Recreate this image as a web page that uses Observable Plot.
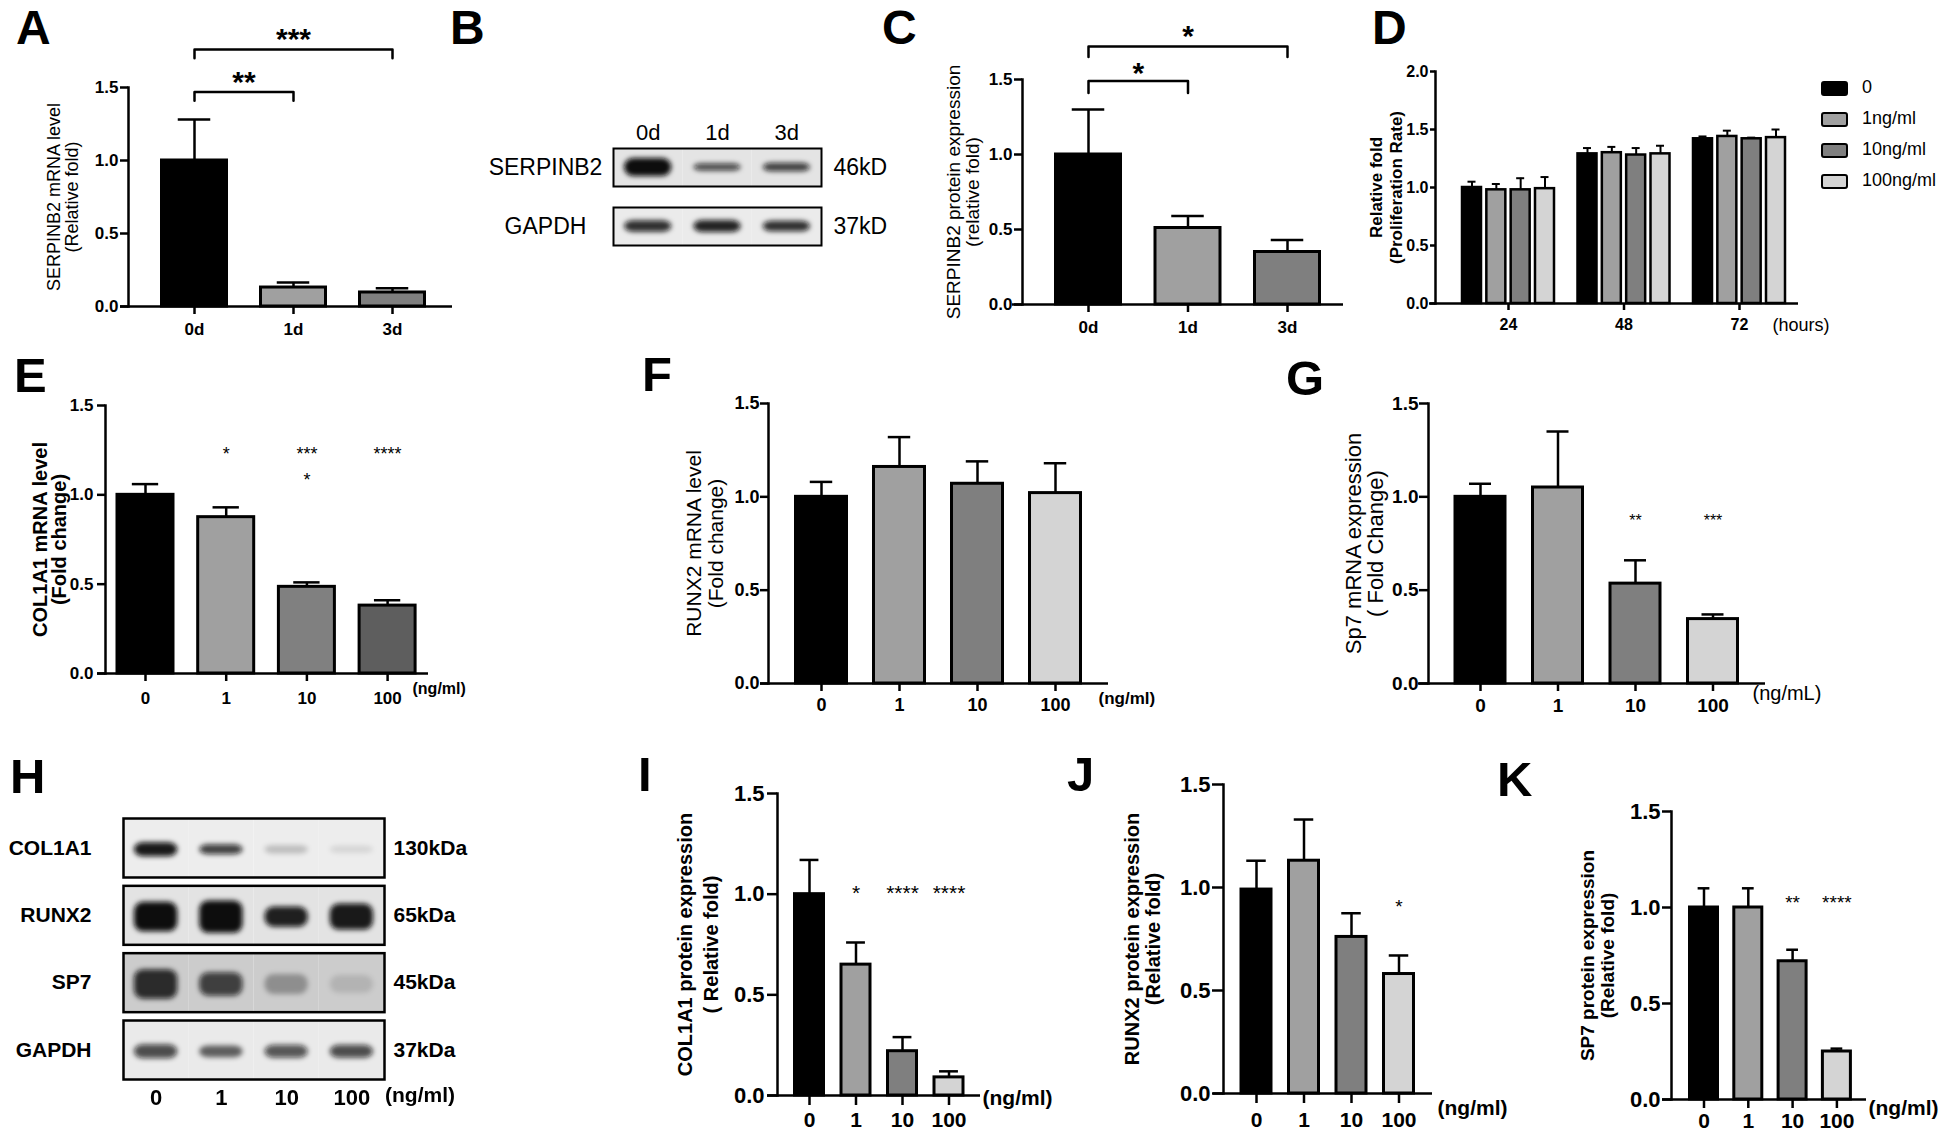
<!DOCTYPE html>
<html><head><meta charset="utf-8">
<script src="https://cdn.jsdelivr.net/npm/d3@7"></script>
<script src="https://cdn.jsdelivr.net/npm/@observablehq/plot@0.6"></script>
<style>
html,body{margin:0;padding:0;background:#fff;}
#root{position:relative;width:1956px;height:1135px;overflow:hidden;font-family:"Liberation Sans",Arial,sans-serif;color:#000;}
#root svg{position:absolute;left:0;top:0;max-width:none !important;overflow:visible;background:transparent !important;}
.lbl{position:absolute;font-weight:bold;}
.txt{position:absolute;white-space:nowrap;}
.sw{position:absolute;box-sizing:border-box;border:2.5px solid #000;border-radius:3px;width:27px;height:15px;}
</style></head><body><div id="root"></div>
<script>
// ---------------- DATA ----------------
const timeCats = ["0d", "1d", "3d"];
const serpinMrna = [1.00, 0.13, 0.096];
const serpinMrnaSD = [0.28, 0.035, 0.029];
const serpinProt = [1.00, 0.51, 0.35];
const serpinProtSD = [0.30, 0.08, 0.08];

const hours = ["24", "48", "72"];
const doseSeries = ["0", "1ng/ml", "10ng/ml", "100ng/ml"];
const prolif = [[1.00, 0.98, 0.98, 0.99], [1.29, 1.30, 1.28, 1.29], [1.42, 1.44, 1.42, 1.43]];
const prolifSD = [[0.05, 0.05, 0.10, 0.10], [0.05, 0.05, 0.06, 0.07], [0.02, 0.05, 0.01, 0.07]];

const doses = ["0", "1", "10", "100"];
const col1a1Mrna = [1.00, 0.875, 0.485, 0.38];
const col1a1MrnaSD = [0.06, 0.055, 0.025, 0.03];
const runx2Mrna = [1.00, 1.16, 1.07, 1.02];
const runx2MrnaSD = [0.08, 0.16, 0.12, 0.16];
const sp7Mrna = [1.00, 1.05, 0.535, 0.345];
const sp7MrnaSD = [0.07, 0.30, 0.125, 0.025];
const col1a1Prot = [1.00, 0.65, 0.22, 0.09];
const col1a1ProtSD = [0.17, 0.11, 0.07, 0.03];
const runx2Prot = [0.99, 1.13, 0.76, 0.58];
const runx2ProtSD = [0.14, 0.20, 0.115, 0.09];
const sp7Prot = [1.00, 1.00, 0.72, 0.25];
const sp7ProtSD = [0.10, 0.10, 0.06, 0.015];

// western blots: band intensity (0-1) and band thickness (fraction of strip)
const blotBLanes = ["0d", "1d", "3d"];
const blotBRows = ["SERPINB2", "GAPDH"];
const blotBSizes = ["46kD", "37kD"];
const blotBIntensity = [[1.0, 0.72, 0.78], [0.85, 0.9, 0.85]];
const blotBThick = [[0.47, 0.2, 0.23], [0.3, 0.32, 0.28]];
const blotHLanes = ["0", "1", "10", "100"];
const blotHRows = ["COL1A1", "RUNX2", "SP7", "GAPDH"];
const blotHSizes = ["130kDa", "65kDa", "45kDa", "37kDa"];
const blotHIntensity = [[0.95, 0.78, 0.2, 0.1], [1.0, 1.0, 0.92, 0.95], [0.85, 0.75, 0.3, 0.12], [0.72, 0.6, 0.68, 0.72]];
const blotHThick = [[0.24, 0.17, 0.14, 0.12], [0.5, 0.55, 0.34, 0.44], [0.5, 0.4, 0.34, 0.3], [0.24, 0.2, 0.22, 0.22]];

// ---------------- STYLE ----------------
const FONT = '"Liberation Sans", Arial, Helvetica, sans-serif';
const W = 1956, H = 1135;
const GRAY3 = ["#000000", "#a0a0a0", "#7f7f7f"];
const GRAY4 = ["#000000", "#a0a0a0", "#7f7f7f", "#d4d4d4"];
const GRAY4E = ["#000000", "#a0a0a0", "#808080", "#5e5e5e"];
const root = document.getElementById("root");
const STYLE = `font-family: ${FONT}; color: black; background: transparent;`;

function barPanel(cfg) {
  const n = cfg.cats.length;
  const p = 1 - cfg.w / cfg.step;
  const a = cfg.c0 - cfg.step * (1 + p) / 2;
  const b = a + cfg.step * (n + p);
  const ymax = cfg.ymax ?? 1.5;
  const data = cfg.cats.map((c, i) => ({cat: c, v: cfg.values[i], top: cfg.values[i] + cfg.sd[i], color: cfg.colors[i]}));
  const capInset = cfg.w * (1 - cfg.capFrac) / 2;
  const marks = [
    Plot.ruleX(data, {x: "cat", y1: "v", y2: "top", stroke: "black", strokeWidth: 2.5}),
    Plot.tickY(data, {x: "cat", y: "top", insetLeft: capInset, insetRight: capInset, stroke: "black", strokeWidth: 2.5}),
    Plot.barY(data, {x: "cat", y: "v", fill: "color", stroke: "black", strokeWidth: 3}),
    Plot.ruleY([0], {insetLeft: -cfg.axisExt, stroke: "black", strokeWidth: 2.5}),
    Plot.frame({anchor: "left", stroke: "black", strokeWidth: 2.5}),
    Plot.axisY({ticks: d3.range(0, ymax + 0.01, 0.5), tickFormat: ".1f", tickSize: cfg.yTick, tickPadding: cfg.yPad,
      fontSize: cfg.yFont, fontWeight: "bold", strokeWidth: 2.5, label: null}),
    Plot.axisX({tickSize: cfg.xTick ?? 8, tickPadding: cfg.xPad, fontSize: cfg.xFont, fontWeight: "bold", strokeWidth: 2.5, label: null}),
    Plot.text([cfg.ylabel], {text: d => d, frameAnchor: "left", dx: cfg.labelX - cfg.x0, rotate: -90,
      fontSize: cfg.labelFont, fontWeight: cfg.labelWeight, lineHeight: cfg.labelLH, lineAnchor: "middle", textAnchor: "middle"})
  ];
  (cfg.brackets || []).forEach(br => {
    const pts = [{x: br.from, y: br.drop}, {x: br.from, y: br.y}, {x: br.to, y: br.y}, {x: br.to, y: br.drop}];
    marks.push(Plot.line(pts, {x: "x", y: "y", stroke: "black", strokeWidth: 2.5}));
    const di = cfg.cats.indexOf(br.to) - cfg.cats.indexOf(br.from);
    marks.push(Plot.text([br], {x: "from", y: "ty", text: "label", dx: di * cfg.step / 2, dy: 0.26 * cfg.starFont,
      fontSize: cfg.starFont, fontWeight: "bold"}));
  });
  if (cfg.ann) {
    marks.push(Plot.text(cfg.ann, {x: "cat", y: "y", text: "label", fontSize: cfg.annFont, fontWeight: "normal", dy: 0.26 * cfg.annFont}));
  }
  if (cfg.unit) {
    marks.push(Plot.text([cfg.unit], {text: d => d, frameAnchor: "bottom-right", textAnchor: "start", lineAnchor: "middle",
      dx: cfg.unitX - cfg.x1, dy: cfg.unitY - cfg.yZero, fontSize: cfg.unitFont, fontWeight: cfg.unitWeight}));
  }
  const svg = Plot.plot({
    width: W, height: H,
    marginLeft: cfg.x0, marginRight: W - cfg.x1, marginTop: cfg.yTop, marginBottom: H - cfg.yZero,
    style: STYLE,
    x: {type: "band", domain: cfg.cats, range: [a, b], padding: p, round: false},
    y: {domain: [0, ymax]},
    color: {type: "identity"},
    marks
  });
  root.appendChild(svg);
}

function prolifPanel() {
  const x0 = 1435, x1 = 1798, yTop = 71, yZero = 303;
  const gStep = 115.5, gW = 92, c0 = 1508;
  const p = 1 - gW / gStep, a = c0 - gStep * (1 + p) / 2, b = a + gStep * (hours.length + p);
  const sW = 19, sStep = (gW - sW) / 3, capW = 8;
  const marks = [];
  doseSeries.forEach((s, j) => {
    const data = hours.map((h, i) => ({h, v: prolif[i][j], top: prolif[i][j] + prolifSD[i][j]}));
    const off = j * sStep;
    marks.push(Plot.ruleX(data, {x: "h", y1: "v", y2: "top", dx: off + sW / 2 - gW / 2, stroke: "black", strokeWidth: 2}));
    marks.push(Plot.tickY(data, {x: "h", y: "top", insetLeft: off + (sW - capW) / 2, insetRight: gW - off - (sW + capW) / 2, stroke: "black", strokeWidth: 2}));
    marks.push(Plot.barY(data, {x: "h", y: "v", insetLeft: off, insetRight: gW - off - sW, fill: GRAY4[j], stroke: "black", strokeWidth: 2.5}));
  });
  marks.push(
    Plot.ruleY([0], {insetLeft: -6, stroke: "black", strokeWidth: 2.5}),
    Plot.frame({anchor: "left", stroke: "black", strokeWidth: 2.5}),
    Plot.axisY({ticks: [0, 0.5, 1, 1.5, 2], tickFormat: ".1f", tickSize: 5, tickPadding: 2, fontSize: 16, fontWeight: "bold", strokeWidth: 2.5, label: null}),
    Plot.axisX({tickSize: 7, tickPadding: 8, fontSize: 16, fontWeight: "bold", strokeWidth: 2.5, label: null}),
    Plot.text(["Relative fold\n(Proliferation Rate)"], {text: d => d, frameAnchor: "left", dx: 1385 - x0, rotate: -90,
      fontSize: 17, fontWeight: "bold", lineHeight: 1.18, lineAnchor: "middle", textAnchor: "middle"}),
    Plot.text(["(hours)"], {text: d => d, frameAnchor: "bottom-right", textAnchor: "start", lineAnchor: "middle",
      dx: 1772 - x1, dy: 325 - yZero, fontSize: 18})
  );
  const svg = Plot.plot({
    width: W, height: H,
    marginLeft: x0, marginRight: W - x1, marginTop: yTop, marginBottom: H - yZero,
    style: STYLE,
    x: {type: "band", domain: hours, range: [a, b], padding: p, round: false},
    y: {domain: [0, 2]},
    marks
  });
  root.appendChild(svg);
}

function blotPanel(cfg) {
  const bg = [], bands = [];
  cfg.rows.forEach((r, i) => cfg.lanes.forEach((l, j) => {
    bg.push({row: r, lane: l, color: cfg.bg[i]});
    const t = cfg.thick[i][j];
    bands.push({row: r, lane: l, y1: cfg.center - t / 2, y2: cfg.center + t / 2, op: cfg.intensity[i][j]});
  }));
  const svg = Plot.plot({
    width: W, height: H,
    marginLeft: cfg.left, marginRight: W - cfg.right, marginTop: cfg.top, marginBottom: H - cfg.bottom,
    style: STYLE,
    x: {type: "band", domain: cfg.lanes, padding: 0, round: false},
    y: {domain: [0, 1], axis: null},
    fy: {domain: cfg.rows, paddingInner: cfg.rowPad, paddingOuter: 0, round: false},
    color: {type: "identity"},
    marks: [
      Plot.barY(bg, {x: "lane", fy: "row", y1: 0, y2: 1, fill: "color"}),
      Plot.barY(bands, {x: "lane", fy: "row", y1: "y1", y2: "y2", fill: "#0a0a0a", fillOpacity: "op",
        insetLeft: cfg.bandInset, insetRight: cfg.bandInset, rx: 9, ariaDescription: "bands"}),
      Plot.frame({stroke: "black", strokeWidth: cfg.frameW}),
      Plot.axisFy({anchor: "left", tickSize: 0, tickPadding: cfg.rowLabelPad, textAnchor: cfg.rowAnchor,
        fontSize: cfg.rowFont, fontWeight: cfg.weight, label: null}),
      Plot.axisFy({anchor: "right", tickSize: 0, tickPadding: cfg.sizePad, tickFormat: d => cfg.sizes[cfg.rows.indexOf(d)],
        fontSize: cfg.rowFont, fontWeight: cfg.weight, label: null}),
      Plot.axisX({anchor: cfg.laneAnchor, tickSize: 0, tickPadding: cfg.lanePad, fontSize: cfg.laneFont, fontWeight: cfg.weight, label: null})
    ]
  });
  const ns = "http://www.w3.org/2000/svg";
  const defs = document.createElementNS(ns, "defs");
  const f = document.createElementNS(ns, "filter");
  f.setAttribute("id", cfg.id); f.setAttribute("x", "-20%"); f.setAttribute("y", "-30%");
  f.setAttribute("width", "140%"); f.setAttribute("height", "160%");
  const gb = document.createElementNS(ns, "feGaussianBlur");
  gb.setAttribute("stdDeviation", cfg.blur);
  f.appendChild(gb); defs.appendChild(f); svg.insertBefore(defs, svg.firstChild);
  svg.querySelectorAll('[aria-description="bands"]').forEach(el => el.setAttribute("filter", `url(#${cfg.id})`));
  root.appendChild(svg);
}

// ---------------- PANELS ----------------
barPanel({cats: timeCats, values: serpinMrna, sd: serpinMrnaSD, colors: GRAY3,
  x0: 128, x1: 452, yTop: 87, yZero: 306, c0: 194, step: 99, w: 65, capFrac: 0.5, axisExt: 8,
  yTick: 8, yPad: 2, yFont: 17, xPad: 8, xFont: 17,
  ylabel: "SERPINB2 mRNA level\n(Relative fold)", labelX: 62.5, labelFont: 18, labelWeight: "normal", labelLH: 1.02,
  starFont: 30,
  brackets: [{from: "0d", to: "1d", y: 1.47, drop: 1.41, label: "**", ty: 1.59},
             {from: "0d", to: "3d", y: 1.76, drop: 1.70, label: "***", ty: 1.88}]});

barPanel({cats: timeCats, values: serpinProt, sd: serpinProtSD, colors: GRAY3,
  x0: 1022, x1: 1343, yTop: 79, yZero: 304, c0: 1088, step: 99.5, w: 65, capFrac: 0.5, axisExt: 10,
  yTick: 8, yPad: 2, yFont: 17, xPad: 8, xFont: 17,
  ylabel: "SERPINB2 protein expression\n(relative fold)", labelX: 962.5, labelFont: 19, labelWeight: "normal", labelLH: 1.0,
  starFont: 30,
  brackets: [{from: "0d", to: "1d", y: 1.49, drop: 1.41, label: "*", ty: 1.59},
             {from: "0d", to: "3d", y: 1.72, drop: 1.65, label: "*", ty: 1.84}]});

prolifPanel();

barPanel({cats: doses, values: col1a1Mrna, sd: col1a1MrnaSD, colors: GRAY4E,
  x0: 105, x1: 428, yTop: 405, yZero: 673, c0: 145, step: 80.7, w: 56, capFrac: 0.47, axisExt: 8,
  yTick: 8, yPad: 4, yFont: 17, xPad: 10, xFont: 17,
  ylabel: "COL1A1 mRNA level\n(Fold change)", labelX: 50, labelFont: 20, labelWeight: "bold", labelLH: 0.93,
  ann: [{cat: "1", y: 1.255, label: "*"}, {cat: "10", y: 1.255, label: "***"}, {cat: "10", y: 1.108, label: "*"}, {cat: "100", y: 1.255, label: "****"}],
  annFont: 18, unit: "(ng/ml)", unitX: 412, unitY: 688, unitFont: 16, unitWeight: "bold"});

barPanel({cats: doses, values: runx2Mrna, sd: runx2MrnaSD, colors: GRAY4,
  x0: 768, x1: 1108, yTop: 403, yZero: 683, c0: 821, step: 78, w: 51, capFrac: 0.44, axisExt: 8,
  yTick: 8, yPad: 1, yFont: 18, xPad: 7, xFont: 18,
  ylabel: "RUNX2 mRNA level\n(Fold change)", labelX: 704, labelFont: 21, labelWeight: "normal", labelLH: 1.05,
  unit: "(ng/ml)", unitX: 1098, unitY: 698, unitFont: 17, unitWeight: "bold"});

barPanel({cats: doses, values: sp7Mrna, sd: sp7MrnaSD, colors: GRAY4,
  x0: 1428, x1: 1765, yTop: 403, yZero: 683, c0: 1480, step: 77.5, w: 50, capFrac: 0.44, axisExt: 10,
  yTick: 9, yPad: 1, yFont: 19, xPad: 7, xFont: 19,
  ylabel: "Sp7 mRNA expression\n( Fold Change)", labelX: 1364, labelFont: 22, labelWeight: "normal", labelLH: 1.0,
  ann: [{cat: "10", y: 0.895, label: "**"}, {cat: "100", y: 0.895, label: "***"}], annFont: 16,
  unit: "(ng/mL)", unitX: 1752, unitY: 693, unitFont: 20, unitWeight: "normal"});

barPanel({cats: doses, values: col1a1Prot, sd: col1a1ProtSD, colors: GRAY4,
  x0: 777, x1: 980, yTop: 793, yZero: 1095, c0: 809, step: 46.5, w: 29, capFrac: 0.65, axisExt: 10,
  yTick: 10, yPad: 3, yFont: 22, xTick: 10, xPad: 7, xFont: 21,
  ylabel: "COL1A1 protein expression\n( Relative fold)", labelX: 696.5, labelFont: 20, labelWeight: "bold", labelLH: 1.3,
  ann: [{cat: "1", y: 1.033, label: "*"}, {cat: "10", y: 1.033, label: "****"}, {cat: "100", y: 1.033, label: "****"}], annFont: 21,
  unit: "(ng/ml)", unitX: 982, unitY: 1098, unitFont: 21, unitWeight: "bold"});

barPanel({cats: doses, values: runx2Prot, sd: runx2ProtSD, colors: GRAY4,
  x0: 1223, x1: 1432, yTop: 784, yZero: 1093, c0: 1256, step: 47.5, w: 30, capFrac: 0.65, axisExt: 10,
  yTick: 11, yPad: 2, yFont: 22, xTick: 10, xPad: 9, xFont: 21,
  ylabel: "RUNX2 protein expression\n(Relative fold)", labelX: 1142.5, labelFont: 20, labelWeight: "bold", labelLH: 1.05,
  ann: [{cat: "100", y: 0.93, label: "*"}], annFont: 19,
  unit: "(ng/ml)", unitX: 1437, unitY: 1108, unitFont: 21, unitWeight: "bold"});

barPanel({cats: doses, values: sp7Prot, sd: sp7ProtSD, colors: GRAY4,
  x0: 1671, x1: 1866, yTop: 811, yZero: 1099, c0: 1703.5, step: 44.3, w: 28, capFrac: 0.42, axisExt: 9,
  yTick: 9, yPad: 2, yFont: 22, xTick: 9, xPad: 5, xFont: 21,
  ylabel: "SP7 protein expression\n(Relative fold)", labelX: 1597, labelFont: 19, labelWeight: "bold", labelLH: 1.05,
  ann: [{cat: "10", y: 1.05, label: "**"}, {cat: "100", y: 1.05, label: "****"}], annFont: 19,
  unit: "(ng/ml)", unitX: 1868, unitY: 1108, unitFont: 21, unitWeight: "bold"});

blotPanel({id: "blurB", rows: blotBRows, lanes: blotBLanes, sizes: blotBSizes, intensity: blotBIntensity, thick: blotBThick,
  left: 613, right: 821, top: 148, bottom: 245, rowPad: 0.356, center: 0.5, bandInset: 11, blur: 2.5, frameW: 2,
  bg: ["#e4e4e4", "#ebebeb"], rowLabelPad: 68, rowAnchor: "middle", sizePad: 12, rowFont: 23, weight: "normal",
  laneAnchor: "top", lanePad: 9, laneFont: 22});

blotPanel({id: "blurH", rows: blotHRows, lanes: blotHLanes, sizes: blotHSizes, intensity: blotHIntensity, thick: blotHThick,
  left: 123, right: 384, top: 818, bottom: 1079, rowPad: 0.124, center: 0.47, bandInset: 11, blur: 2.8, frameW: 2.5,
  bg: ["#ededed", "#e3e3e3", "#cccccc", "#eaeaea"], rowLabelPad: 32, rowAnchor: "end", sizePad: 9, rowFont: 21, weight: "bold",
  laneAnchor: "bottom", lanePad: 10, laneFont: 22});

// ---------------- HTML TEXT ----------------
function addText(str, left, centerY, size, weight, k = 0.59) {
  const d = document.createElement("div");
  d.className = "txt";
  d.textContent = str;
  d.style.fontSize = size + "px"; d.style.lineHeight = size + "px"; d.style.fontWeight = weight;
  d.style.left = left + "px"; d.style.top = (centerY - k * size) + "px";
  root.appendChild(d);
}
addText("(ng/ml)", 385, 1096, 21, "bold");

const legendYs = [88, 119, 150, 181];
doseSeries.forEach((s, j) => {
  const sw = document.createElement("div");
  sw.className = "sw";
  sw.style.left = "1821px"; sw.style.top = (legendYs[j] - 7.5) + "px"; sw.style.background = GRAY4[j];
  root.appendChild(sw);
  addText(s, 1862, legendYs[j], 18, "normal", 0.55);
});

// panel letters: [letter, left, baseline, font size]
const LETTERS = [["A", 16, 44.5, 48], ["B", 450, 44.5, 48], ["C", 882, 44.5, 48], ["D", 1372, 44.5, 48],
  ["E", 14, 392, 49], ["F", 642, 391, 49], ["G", 1286, 395, 49], ["H", 10, 793, 49], ["I", 638, 791, 49],
  ["J", 1067, 791, 49], ["K", 1497, 796, 49]];
LETTERS.forEach(([t, x, base, fs]) => {
  const d = document.createElement("div");
  d.className = "lbl"; d.textContent = t;
  d.style.fontSize = fs + "px"; d.style.lineHeight = fs + "px";
  d.style.left = x + "px"; d.style.top = (base - 0.8465 * fs) + "px";
  root.appendChild(d);
});
</script></body></html>
